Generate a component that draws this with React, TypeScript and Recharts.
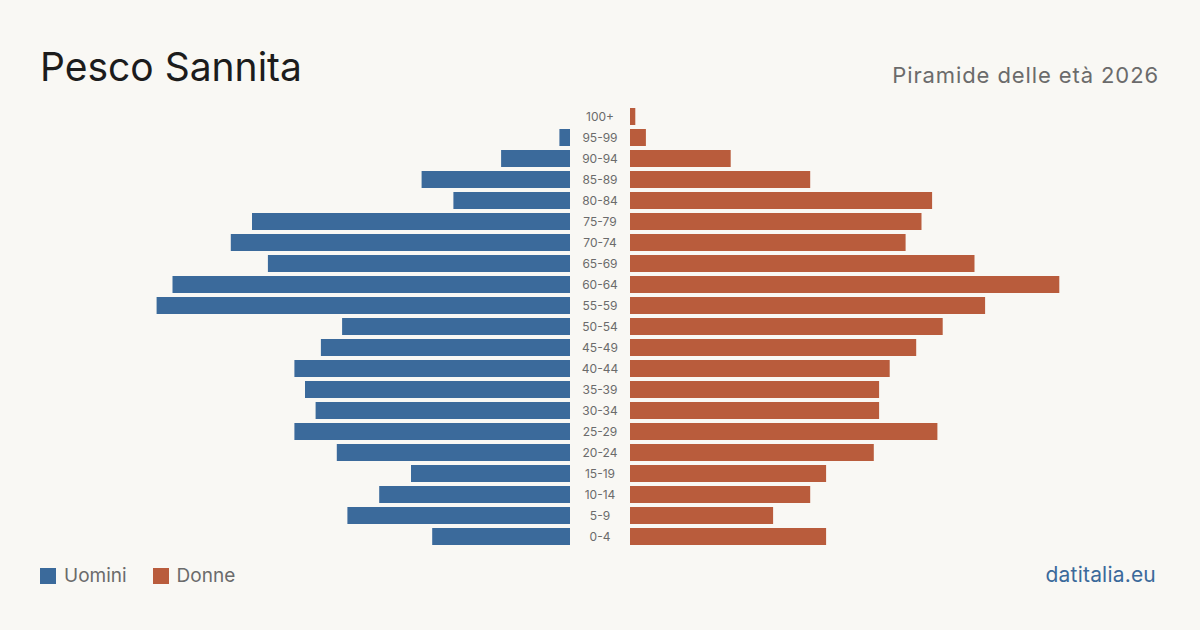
import { Bar, BarChart, XAxis, YAxis } from 'recharts';

const ageGroups = [
  '100+', '95-99', '90-94', '85-89', '80-84', '75-79', '70-74', '65-69',
  '60-64', '55-59', '50-54', '45-49', '40-44', '35-39', '30-34', '25-29',
  '20-24', '15-19', '10-14', '5-9', '0-4',
];
const uomini = [0, 2, 13, 28, 22, 60, 64, 57, 75, 78, 43, 47, 52, 50, 48, 52, 44, 30, 36, 42, 26];
const donne = [1, 3, 19, 34, 57, 55, 52, 65, 81, 67, 59, 54, 49, 47, 47, 58, 46, 37, 34, 27, 37];

const BLUE = '#3b6a9b';
const ORANGE = '#b95c3c';
const BG = '#f9f8f4';
const FONT = 'Inter, "Noto Sans", sans-serif';

const data = ageGroups.map((age, i) => ({ age, m: uomini[i], f: donne[i] }));

const AgeTick = (props: any) => (
  <text
    x={30}
    y={props.y}
    dy={4}
    textAnchor="middle"
    fontSize={12}
    fill="#6b6b6b"
    fontFamily={FONT}
  >
    {props.payload.value}
  </text>
);

const margin = { top: 106, bottom: 83 };

export default function App() {
  return (
    <div
      style={{
        position: 'absolute',
        left: 0,
        top: 0,
        width: 1200,
        height: 630,
        background: BG,
        fontFamily: FONT,
        overflow: 'hidden',
      }}
    >
      <div style={{ position: 'absolute', left: 40, top: 43, fontSize: 39, color: '#1c1c1c' }}>
        Pesco Sannita
      </div>
      <div
        style={{
          position: 'absolute',
          right: 41,
          top: 62,
          fontSize: 22,
          letterSpacing: 0.9,
          color: '#6b6b6b',
        }}
      >
        Piramide delle età 2026
      </div>

      <div style={{ position: 'absolute', left: 0, top: 0 }}>
        <BarChart
          width={570}
          height={630}
          data={data}
          layout="vertical"
          margin={{ ...margin, left: 40, right: 0 }}
          barSize={17}
        >
          <XAxis type="number" domain={[0, 100]} reversed hide />
          <YAxis type="category" dataKey="age" hide />
          <Bar dataKey="m" fill={BLUE} isAnimationActive={false} />
        </BarChart>
      </div>

      <div style={{ position: 'absolute', left: 570, top: 0 }}>
        <BarChart
          width={630}
          height={630}
          data={data}
          layout="vertical"
          margin={{ ...margin, left: 0, right: 40 }}
          barSize={17}
        >
          <XAxis type="number" domain={[0, 100]} hide />
          <YAxis
            type="category"
            dataKey="age"
            width={60}
            tickLine={false}
            axisLine={false}
            interval={0}
            tick={<AgeTick />}
          />
          <Bar dataKey="f" fill={ORANGE} isAnimationActive={false} />
        </BarChart>
      </div>

      <div
        style={{
          position: 'absolute',
          left: 40,
          top: 564,
          display: 'flex',
          alignItems: 'center',
          fontSize: 19,
          color: '#6b6b6b',
        }}
      >
        <span style={{ width: 16, height: 16, background: BLUE, marginRight: 8 }} />
        <span style={{ marginRight: 26 }}>Uomini</span>
        <span style={{ width: 16, height: 16, background: ORANGE, marginRight: 8 }} />
        <span>Donne</span>
      </div>
      <div
        style={{
          position: 'absolute',
          right: 44,
          top: 562,
          fontSize: 21,
          letterSpacing: 0.2,
          color: BLUE,
        }}
      >
        datitalia.eu
      </div>
    </div>
  );
}
